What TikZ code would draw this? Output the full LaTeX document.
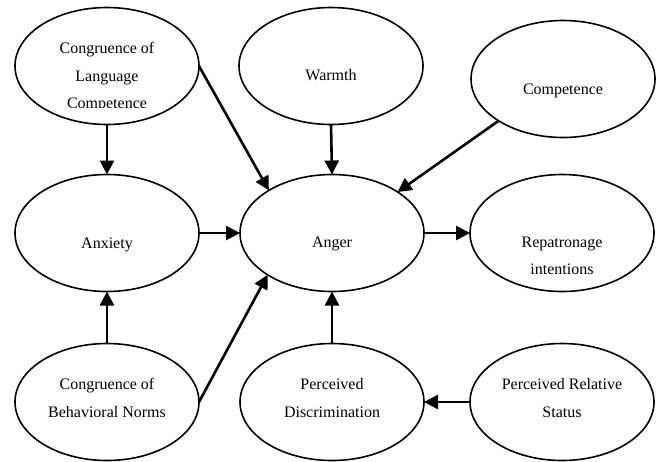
\documentclass[tikz,border=0pt]{standalone}
\usepackage{fontspec}
\setmainfont{Liberation Serif}
\usetikzlibrary{shapes.geometric,arrows.meta}
\begin{document}
\begin{tikzpicture}[x=1pt,y=-1pt,
  oval/.style={ellipse,draw,line width=1.6pt,minimum width=184pt,minimum height=117pt,inner sep=0pt,outer sep=0pt},
  lbl/.style={anchor=base,inner sep=0pt,font=\fontsize{16}{16}\selectfont},
  link/.style={line width=2.6pt,-{Triangle[length=14pt,width=14pt]}}]
\useasboundingbox (0,0) rectangle (660,461);

% construct ovals
\node[oval] (lang)   at (107,66)  {};
\node[oval] (warm)   at (331,66)  {};
\node[oval] (comp)   at (563,79)  {};
\node[oval] (anx)    at (107,233) {};
\node[oval] (anger)  at (332,233) {};
\node[oval] (repat)  at (562,233) {};
\node[oval] (norms)  at (107,402) {};
\node[oval] (discr)  at (332,402) {};
\node[oval] (status) at (562,402) {};

% labels
\node[lbl] (lang1) at (107,53) {Congruence of};
\node[lbl] (lang2) at (107,81) {Language};
\begin{scope}
  \clip (20,85) rectangle (200,107.5);
  \node[lbl] (lang3) at (107,108) {Competence};
\end{scope}
\node[lbl] (warmt)   at (331,80)  {Warmth};
\node[lbl] (compt)   at (563,94)  {Competence};
\node[lbl] (anxt)    at (107,248) {Anxiety};
\node[lbl] (angert)  at (332,247) {Anger};
\node[lbl] (repat1)  at (562,247) {Repatronage};
\node[lbl] (repat2)  at (562,274) {intentions};
\node[lbl] (norms1)  at (107,389) {Congruence of};
\node[lbl] (norms2)  at (107,417) {Behavioral Norms};
\node[lbl] (discr1)  at (332,389) {Perceived};
\node[lbl] (discr2)  at (332,417) {Discrimination};
\node[lbl] (status1) at (562,389) {Perceived Relative};
\node[lbl] (status2) at (562,417) {Status};

% paths of influence
\draw[link] (lang.south) -- (anx.north);
\draw[link] (lang.east) -- (anger.146);
\draw[link] (warm.south) -- (anger.north);
\draw[link] (comp.213) -- (anger.32);
\draw[link] (anx.east) -- (anger.west);
\draw[link] (anger.east) -- (repat.west);
\draw[link] (norms.north) -- (anx.south);
\draw[link] (norms.east) -- (anger.213);
\draw[link] (discr.north) -- (anger.south);
\draw[link] (status.west) -- (discr.east);
\end{tikzpicture}
\end{document}
